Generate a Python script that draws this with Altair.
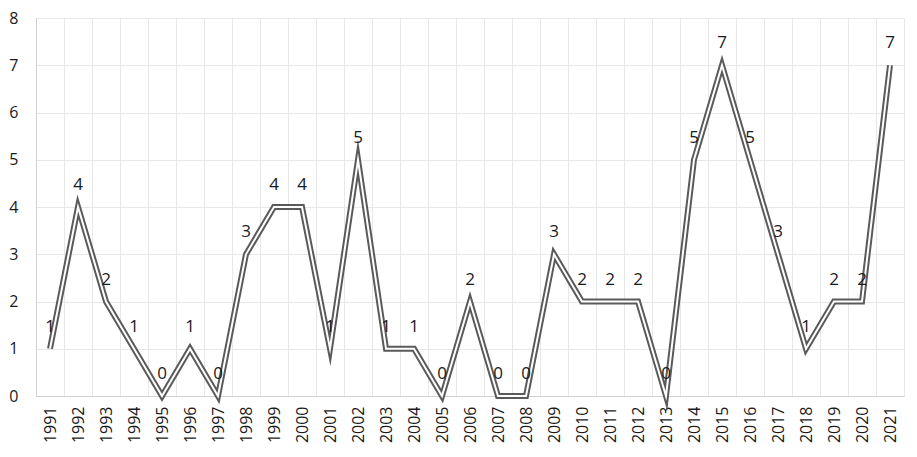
import altair as alt
import pandas as pd

years = [str(y) for y in range(1991, 2022)]
counts = [1, 4, 2, 1, 0, 1, 0, 3, 4, 4, 1, 5, 1, 1, 0, 2, 0, 0, 3, 2, 2, 2, 0, 5, 7, 5, 3, 1, 2, 2, 7]

df = pd.DataFrame({"year": years, "count": counts})

FONT = "Open Sans"
x_enc = alt.X(
    "year:O",
    sort=years,
    title=None,
    scale=alt.Scale(type="band", paddingInner=0, paddingOuter=0),
    axis=alt.Axis(
        labelAngle=-90,
        labelAlign="right",
        labelBaseline="middle",
        labelPadding=10,
        labelFontSize=16,
        labelFont=FONT,
        labelColor="#1a1a1a",
        ticks=False,
        tickBand="extent",
        grid=True,
        gridColor="#e8e8e8",
        gridWidth=1,
        domainColor="#d0d0d0",
        domainWidth=1,
    ),
)
y_enc = alt.Y(
    "count:Q",
    title=None,
    scale=alt.Scale(domain=[0, 8], nice=False, zero=True),
    axis=alt.Axis(
        values=list(range(0, 9)),
        labelFontSize=16,
        labelFont=FONT,
        labelColor="#1a1a1a",
        labelPadding=18,
        ticks=False,
        grid=True,
        gridColor="#e8e8e8",
        gridWidth=1,
        domainColor="#d0d0d0",
        domainWidth=1,
    ),
)

base = alt.Chart(df).encode(x=x_enc, y=y_enc)

outer = base.mark_line(color="#5a5a5a", strokeWidth=6, strokeJoin="miter", strokeMiterLimit=10, clip=False)
inner = base.mark_line(color="#ffffff", strokeWidth=2, strokeJoin="miter", strokeMiterLimit=10, clip=False)
labels = base.mark_text(dy=-22, fontSize=17, font=FONT, color="#1a1a1a").encode(text="count:Q")

chart = (
    alt.layer(outer, inner, labels)
    .properties(
        width=868,
        height=378,
        autosize=alt.AutoSizeParams(type="none"),
        padding={"left": 28, "top": 10, "right": 5, "bottom": 50},
    )
    .configure_view(stroke="#e8e8e8", strokeWidth=1)
    .configure(background="white")
)

chart.save("out.html", embed_options={"renderer": "svg", "actions": False})
